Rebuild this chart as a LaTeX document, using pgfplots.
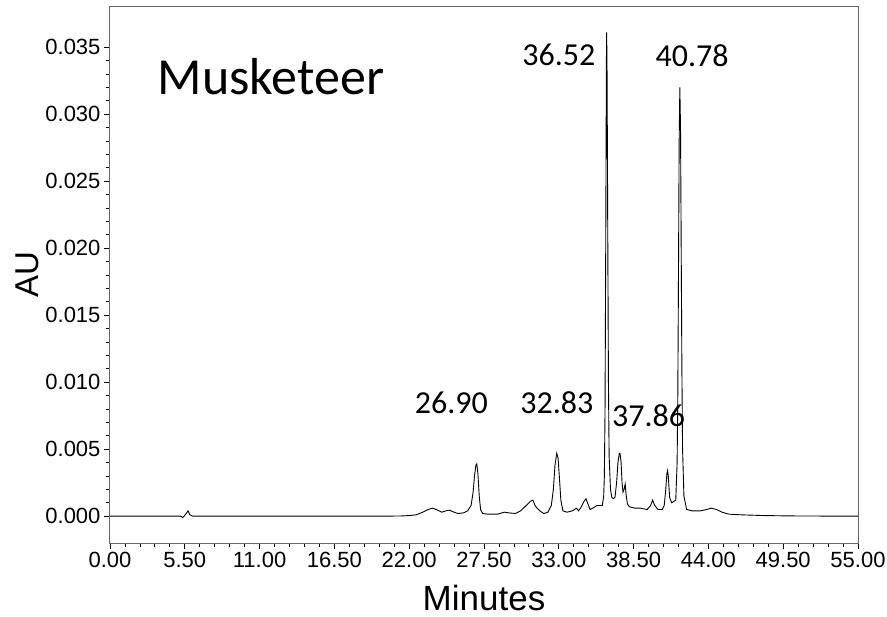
\documentclass[border=0pt]{standalone}
\usepackage{fontspec}
\setmainfont{Liberation Sans}
\newfontfamily\calibri{Carlito}
\usepackage{pgfplots}
\pgfplotsset{compat=1.18}

\begin{document}
\begin{tikzpicture}
\begin{axis}[
  scale only axis,
  width=748pt, height=536pt,
  xmin=0, xmax=55,
  ymin=-0.002, ymax=0.038,
  xtick={0,5.5,11,16.5,22,27.5,33,38.5,44,49.5,55},
  ytick={0,0.005,0.010,0.015,0.020,0.025,0.030,0.035},
  minor x tick num=4,
  minor y tick num=4,
  tick align=outside,
  xtick pos=bottom, ytick pos=left,
  major tick length=6pt, minor tick length=3.5pt,
  tick style={black, line width=0.8pt},
  axis line style={black!60, line width=1pt},
  scaled y ticks=false,
  xticklabel style={/pgf/number format/.cd, fixed, fixed zerofill, precision=2, assume math mode=true},
  yticklabel style={/pgf/number format/.cd, fixed, fixed zerofill, precision=3, assume math mode=true},
  ticklabel style={font=\fontsize{22}{24}\selectfont},
  xlabel={Minutes},
  ylabel={AU},
  xlabel style={font=\fontsize{35}{38}\selectfont, at={(axis description cs:0.5,-0.1026)}, anchor=center},
  ylabel style={font=\fontsize{33}{36}\selectfont, at={(axis description cs:-0.111,0.5)}, anchor=center},
  clip=false,
]
\addplot[black, line width=0.9pt] coordinates {
 (0,0) (3,0) (5.2,0) (5.34,-0.0001) (5.45,0.0000) (5.6,0.0002) (5.74,0.0004)
 (5.88,0.0001) (6.1,0) (10,0) (15,0) (20,0) (21.5,0.00002) (22.0,0.00005)
 (22.5,0.0001) (23.0,0.0003) (23.4,0.0005) (23.7,0.0006) (24.0,0.0005)
 (24.4,0.0003) (24.7,0.0004) (24.95,0.00045) (25.3,0.0003) (25.6,0.0002)
 (26.0,0.00025) (26.3,0.0004) (26.55,0.0008) (26.7,0.0018) (26.8,0.0030)
 (26.9,0.0038) (26.97,0.0039) (27.05,0.0032) (27.15,0.0015) (27.25,0.0005)
 (27.4,0.0002) (27.8,0.00015) (28.5,0.00015) (29.0,0.0003) (29.3,0.00025)
 (29.8,0.0002) (30.2,0.0004) (30.6,0.0008) (30.9,0.0011) (31.1,0.0012)
 (31.25,0.0008) (31.4,0.0006) (31.6,0.0004) (31.9,0.0002) (32.2,0.0003)
 (32.45,0.0008) (32.6,0.0020) (32.72,0.0038) (32.85,0.0047) (32.95,0.0043)
 (33.05,0.0028) (33.15,0.0012) (33.3,0.0004) (33.6,0.0003) (34.0,0.0004)
 (34.3,0.0006) (34.45,0.0004) (34.6,0.0006) (34.85,0.0011) (35.0,0.0013)
 (35.15,0.0009) (35.3,0.0005) (35.5,0.0006) (35.8,0.0008) (36.1,0.0008)
 (36.2,0.0008) (36.3,0.0015) (36.35,0.0030) (36.4,0.0080) (36.45,0.0200)
 (36.5,0.0340) (36.52,0.0361) (36.55,0.0330) (36.6,0.0210) (36.65,0.0100)
 (36.7,0.0045) (36.8,0.0020) (36.9,0.0014) (37.0,0.0013) (37.13,0.0014)
 (37.25,0.0025) (37.35,0.0040) (37.45,0.0047) (37.5,0.0047) (37.58,0.0040)
 (37.65,0.0025) (37.72,0.0018) (37.8,0.0020) (37.88,0.0024) (37.95,0.0016)
 (38.05,0.0009) (38.2,0.0007) (38.6,0.0006) (39.0,0.0006) (39.5,0.0005)
 (39.75,0.0008) (39.9,0.0012) (40.05,0.0008) (40.3,0.0005) (40.6,0.0005)
 (40.75,0.0008) (40.85,0.0018) (40.95,0.0032) (41.0,0.0034) (41.05,0.0030)
 (41.15,0.0014) (41.3,0.0010) (41.45,0.0011) (41.6,0.0012) (41.7,0.0040)
 (41.75,0.0090) (41.8,0.0180) (41.85,0.0280) (41.9,0.0320) (41.95,0.0290)
 (42.0,0.0200) (42.05,0.0110) (42.1,0.0050) (42.2,0.0015) (42.4,0.0005)
 (42.8,0.0004) (43.4,0.0004) (43.9,0.0005) (44.2,0.0006) (44.6,0.0005)
 (45.0,0.0003) (45.5,0.00015) (46.5,0.0001) (48,0.00005) (50,0.00002) (55,0)
};
% sample name and retention times
\node[font=\calibri\fontsize{52}{56}\selectfont, anchor=center] at (axis cs:11.84,0.0328) {Musketeer};
\node[font=\calibri\fontsize{32}{34}\selectfont, anchor=center] at (axis cs:33.0,0.0344) {36.52};
\node[font=\calibri\fontsize{32}{34}\selectfont, anchor=center] at (axis cs:42.8,0.0344) {40.78};
\node[font=\calibri\fontsize{32}{34}\selectfont, anchor=center] at (axis cs:25.1,0.00846) {26.90};
\node[font=\calibri\fontsize{32}{34}\selectfont, anchor=center] at (axis cs:32.86,0.00846) {32.83};
\node[font=\calibri\fontsize{32}{34}\selectfont, anchor=center] at (axis cs:39.6,0.0075) {37.86};
\end{axis}
\pgfresetboundingbox
\path (current axis.south west) ++(-110pt,-74pt) coordinate (bbA);
\path (current axis.north east) ++(29pt,7pt) coordinate (bbB);
\useasboundingbox (bbA) rectangle (bbB);
\end{tikzpicture}
\end{document}
